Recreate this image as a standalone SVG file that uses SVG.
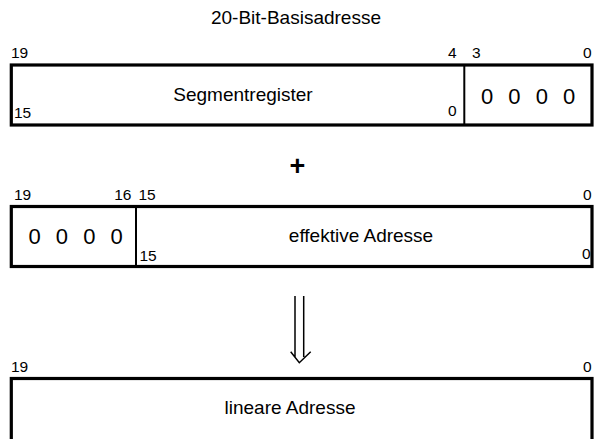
<svg xmlns="http://www.w3.org/2000/svg" width="596" height="439" viewBox="0 0 596 439">
<style>
text{font-family:"Liberation Sans",Arial,sans-serif;fill:#000}
.t{font-size:19px}
.n{font-size:15.5px}
.z{font-size:22px;word-spacing:9px}
.box{fill:#fff;stroke:#000;stroke-width:3.2}
.div{stroke:#000;stroke-width:2}
.arr{fill:none;stroke:#000;stroke-width:1.5}
</style>
<rect width="596" height="439" fill="#fff"/>
<text class="t" x="296" y="24" text-anchor="middle">20-Bit-Basisadresse</text>
<g id="segment">
<rect class="box" x="11.3" y="65" width="580.7" height="60"/>
<line class="div" x1="464.3" y1="65" x2="464.3" y2="125"/>
<text class="n" x="11" y="58">19</text>
<text class="n" x="456.5" y="58" text-anchor="end">4</text>
<text class="n" x="472" y="58">3</text>
<text class="n" x="591.5" y="58" text-anchor="end">0</text>
<text class="n" x="14" y="118">15</text>
<text class="n" x="456.5" y="116" text-anchor="end">0</text>
<text class="t" x="243" y="101" text-anchor="middle">Segmentregister</text>
<text class="z" x="481" y="104">0 0 0 0</text>
</g>
<text x="297.5" y="175" text-anchor="middle" style="font-size:27px;font-weight:bold">+</text>
<g id="effektiv">
<rect class="box" x="11.3" y="206.5" width="580.7" height="60"/>
<line class="div" x1="136" y1="206.5" x2="136" y2="266.5"/>
<text class="n" x="14" y="200">19</text>
<text class="n" x="131.5" y="200" text-anchor="end">16</text>
<text class="n" x="138.5" y="200">15</text>
<text class="n" x="591.5" y="200" text-anchor="end">0</text>
<text class="z" x="28.5" y="243.5">0 0 0 0</text>
<text class="n" x="139.5" y="261">15</text>
<text class="n" x="590.5" y="259" text-anchor="end">0</text>
<text class="t" x="361" y="242" text-anchor="middle">effektive Adresse</text>
</g>
<g id="connectors">
<path class="arr" d="M295 296V357M303.7 296V357M290.7 351.7L299.3 362.7L310.7 351.7"/>
</g>
<g id="linear">
<rect class="box" x="11.3" y="378.5" width="580.7" height="70"/>
<text class="n" x="11" y="372">19</text>
<text class="n" x="591.5" y="372" text-anchor="end">0</text>
<text class="t" x="290" y="414" text-anchor="middle">lineare Adresse</text>
</g>
</svg>
